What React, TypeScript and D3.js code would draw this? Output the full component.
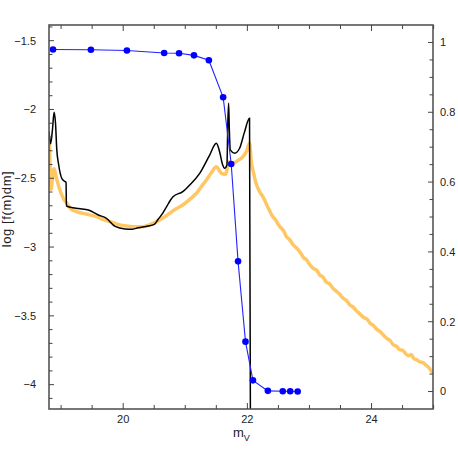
import { useEffect, useRef } from "react";
import * as d3 from "d3";

// blue: fraction (right axis) vs magnitude
const blueMag = [18.87, 19.48, 20.06, 20.66, 20.9, 21.14, 21.38, 21.61, 21.74, 21.85, 21.97, 22.09, 22.33, 22.57, 22.69, 22.81];
const blueFrac = [0.98, 0.979, 0.977, 0.97, 0.969, 0.963, 0.949, 0.843, 0.652, 0.373, 0.143, 0.032, 0.002, 0.001, 0.001, 0.0];

// black: log f(m)dm
const blackMag = [18.806, 18.83, 18.86, 18.887, 18.91, 18.93, 18.96, 19.01, 19.05, 19.08, 19.085, 19.15, 19.28, 19.44, 19.6, 19.73, 19.87, 20.03, 20.15, 20.24, 20.4, 20.5, 20.56, 20.643, 20.7, 20.76, 20.803, 20.96, 21.071, 21.232, 21.393, 21.5, 21.553, 21.6, 21.634, 21.671, 21.685, 21.698, 21.71, 21.725, 21.794, 21.875, 21.95, 22.035, 22.05];
const blackLog = [-2.16, -2.25, -2.15, -2.02, -2.1, -2.29, -2.4, -2.5, -2.52, -2.53, -2.7, -2.71, -2.72, -2.73, -2.767, -2.791, -2.85, -2.868, -2.87, -2.86, -2.847, -2.835, -2.8, -2.75, -2.706, -2.66, -2.634, -2.597, -2.549, -2.464, -2.331, -2.246, -2.307, -2.4, -2.427, -2.403, -2.1, -1.955, -2.15, -2.294, -2.318, -2.282, -2.17, -2.064, -4.4];

// orange: log f(m)dm (second model)
const orangeMag = [18.81, 18.825, 18.84, 18.86, 18.887, 18.92, 18.98, 19.04, 19.09, 19.15, 19.25, 19.4, 19.57, 19.68, 19.79, 19.92, 20.05, 20.18, 20.32, 20.44, 20.54, 20.65, 20.75, 20.86, 20.96, 21.08, 21.18, 21.26, 21.34, 21.42, 21.5, 21.55, 21.58, 21.65, 21.67, 21.69, 21.72, 21.77, 21.85, 21.93, 21.99, 22.035, 22.05, 22.06, 22.1, 22.14, 22.2, 22.25, 22.33, 22.41, 22.45, 22.52, 22.58, 22.63, 22.68, 22.74, 22.8, 22.86, 22.91, 22.95, 23.0, 23.06, 23.12, 23.17, 23.21, 23.27, 23.33, 23.38, 23.43, 23.48, 23.54, 23.6, 23.65, 23.7, 23.75, 23.81, 23.87, 23.93, 23.98, 24.03, 24.09, 24.14, 24.2, 24.25, 24.3, 24.35, 24.4, 24.45, 24.5, 24.55, 24.6, 24.64, 24.68, 24.73, 24.78, 24.83, 24.88, 24.93, 24.97, 25.0];
const orangeLog = [-2.24, -2.45, -2.58, -2.5, -2.43, -2.49, -2.585, -2.65, -2.68, -2.72, -2.743, -2.76, -2.779, -2.8, -2.815, -2.835, -2.847, -2.852, -2.852, -2.835, -2.815, -2.785, -2.754, -2.72, -2.694, -2.65, -2.609, -2.56, -2.512, -2.46, -2.416, -2.445, -2.464, -2.471, -2.44, -2.379, -2.385, -2.391, -2.37, -2.343, -2.3, -2.246, -2.3, -2.367, -2.46, -2.536, -2.6, -2.634, -2.71, -2.779, -2.8, -2.85, -2.88, -2.925, -2.945, -2.985, -3.01, -3.045, -3.08, -3.09, -3.125, -3.155, -3.17, -3.205, -3.215, -3.255, -3.27, -3.3, -3.32, -3.34, -3.37, -3.39, -3.42, -3.435, -3.46, -3.485, -3.51, -3.525, -3.555, -3.57, -3.6, -3.615, -3.645, -3.665, -3.68, -3.71, -3.72, -3.745, -3.75, -3.775, -3.79, -3.78, -3.81, -3.82, -3.835, -3.84, -3.86, -3.88, -3.905, -3.91];

const xTicks = [20, 22, 24];
const yLeftTicks = [-1.5, -2, -2.5, -3, -3.5, -4];
const yRightTicks = [0, 0.2, 0.4, 0.6, 0.8, 1];

export default function App() {
  const svgRef = useRef<SVGSVGElement>(null);

  useEffect(() => {
    document.body.style.margin = "0";
    const W = 458;
    const H = 458;
    const M = { top: 25, right: 25, bottom: 49, left: 49 };

    const svg = d3.select(svgRef.current).attr("width", W).attr("height", H);
    svg.selectAll("*").remove();

    const x = d3.scaleLinear().domain([18.805, 24.99]).range([M.left, W - M.right]);
    const yL = d3.scaleLinear().domain([-4.177, -1.386]).range([H - M.bottom, M.top]);
    const yR = d3.scaleLinear().domain([-0.05, 1.05]).range([H - M.bottom, M.top]);

    const font = "'Liberation Sans', Arial, sans-serif";
    const fmt = (v: number) => (v < 0 ? "\u2212" + Math.abs(v) : String(v));

    svg.append("defs").append("clipPath").attr("id", "plotclip")
      .append("rect")
      .attr("x", M.left).attr("y", M.top)
      .attr("width", W - M.left - M.right).attr("height", H - M.top - M.bottom);

    const content = svg.append("g").attr("clip-path", "url(#plotclip)");

    const smooth = d3.line<[number, number]>()
      .curve(d3.curveMonotoneX)
      .x((d) => x(d[0]))
      .y((d) => yL(d[1]));

    // orange curve
    const orangePts = orangeMag.map((m, i) => [m, orangeLog[i]] as [number, number]);
    content.append("path")
      .attr("d", smooth(orangePts))
      .attr("fill", "none")
      .attr("stroke", "#ffc764")
      .attr("stroke-width", 3.5)
      .attr("stroke-linejoin", "round");

    // black curve
    const blackPts = blackMag.map((m, i) => [m, blackLog[i]] as [number, number]);
    content.append("path")
      .attr("d", smooth(blackPts))
      .attr("fill", "none")
      .attr("stroke", "#000")
      .attr("stroke-width", 1.5);

    // blue completeness
    const bluePts = blueMag.map((m, i) => [m, blueFrac[i]] as [number, number]);
    content.append("path")
      .attr("d", d3.line<[number, number]>().x((d) => x(d[0])).y((d) => yR(d[1]))(bluePts))
      .attr("fill", "none")
      .attr("stroke", "#2222ff")
      .attr("stroke-width", 1.1);
    content.selectAll(".dot")
      .data(bluePts)
      .join("circle")
      .attr("class", "dot")
      .attr("cx", (d) => x(d[0]))
      .attr("cy", (d) => yR(d[1]))
      .attr("r", 3.3)
      .attr("fill", "#0000ff");

    // frame
    svg.append("rect")
      .attr("x", M.left).attr("y", M.top)
      .attr("width", W - M.left - M.right).attr("height", H - M.top - M.bottom)
      .attr("fill", "none").attr("stroke", "#555").attr("stroke-width", 1.6);

    const axisColor = "#444";

    // bottom & top axes, ticks inward
    const xMinor = d3.range(19, 25.01, 0.5);
    xMinor.forEach((v) => {
      const major = xTicks.includes(v);
      const len = major ? 6 : 4;
      svg.append("line").attr("x1", x(v)).attr("x2", x(v))
        .attr("y1", H - M.bottom).attr("y2", H - M.bottom - len)
        .attr("stroke", axisColor).attr("stroke-width", 1);
      svg.append("line").attr("x1", x(v)).attr("x2", x(v))
        .attr("y1", M.top).attr("y2", M.top + len)
        .attr("stroke", axisColor).attr("stroke-width", 1);
    });
    svg.selectAll(".xlab").data(xTicks).join("text")
      .attr("class", "xlab")
      .attr("x", (d) => x(d)).attr("y", H - M.bottom + 14)
      .attr("text-anchor", "middle")
      .attr("font-family", font).attr("font-size", 11).attr("fill", "#222")
      .text((d) => fmt(d));

    // left axis
    const yMinor = d3.range(-4.1, -1.39, 0.1).map((v) => Math.round(v * 10) / 10);
    yMinor.forEach((v) => {
      const major = yLeftTicks.includes(v);
      const len = major ? 5 : 3.5;
      svg.append("line").attr("x1", M.left).attr("x2", M.left + len)
        .attr("y1", yL(v)).attr("y2", yL(v))
        .attr("stroke", axisColor).attr("stroke-width", 1);
    });
    svg.selectAll(".ylab").data(yLeftTicks).join("text")
      .attr("class", "ylab")
      .attr("x", M.left - 13).attr("y", (d) => yL(d))
      .attr("dy", "0.35em")
      .attr("text-anchor", "end")
      .attr("font-family", font).attr("font-size", 11).attr("fill", "#222")
      .text((d) => fmt(d));

    // right axis
    const rMinor = d3.range(0, 1.01, 0.05).map((v) => Math.round(v * 100) / 100);
    rMinor.forEach((v) => {
      const major = yRightTicks.includes(v);
      const len = major ? 5 : 3.5;
      svg.append("line").attr("x1", W - M.right).attr("x2", W - M.right - len)
        .attr("y1", yR(v)).attr("y2", yR(v))
        .attr("stroke", axisColor).attr("stroke-width", 1);
    });
    svg.selectAll(".rlab").data(yRightTicks).join("text")
      .attr("class", "rlab")
      .attr("x", W - M.right + 7).attr("y", (d) => yR(d))
      .attr("dy", "0.35em")
      .attr("text-anchor", "start")
      .attr("font-family", font).attr("font-size", 11).attr("fill", "#222")
      .text((d) => String(d));

    // axis titles
    const xt = svg.append("text")
      .attr("x", x(22) - 6).attr("y", H - M.bottom + 28)
      .attr("text-anchor", "middle")
      .attr("font-family", font).attr("font-size", 13).attr("fill", "#222");
    xt.append("tspan").text("m");
    xt.append("tspan").attr("font-size", 9).attr("dy", 4).text("V");

    svg.append("text")
      .attr("transform", `translate(11, 209) rotate(-90)`)
      .attr("text-anchor", "middle")
      .attr("font-family", font).attr("font-size", 13).attr("fill", "#222")
      .attr("letter-spacing", 0.6)
      .text("log [f(m)dm]");
  }, []);

  return <svg ref={svgRef}></svg>;
}
